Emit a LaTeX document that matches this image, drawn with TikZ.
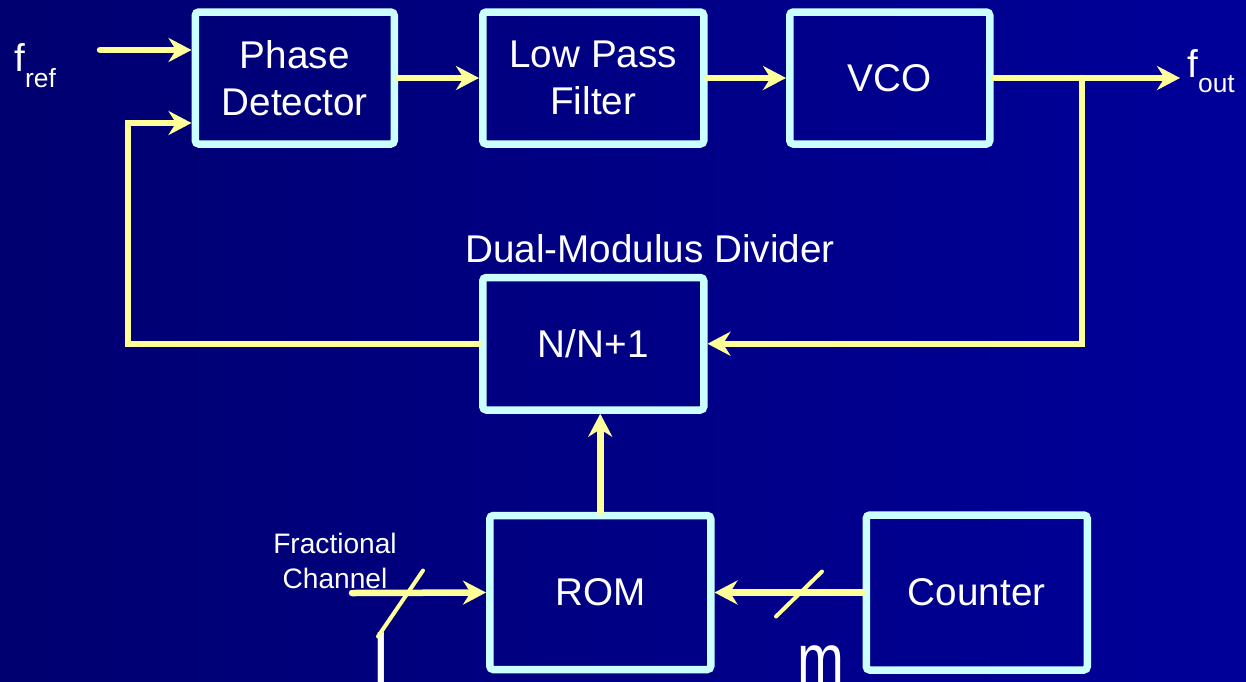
\documentclass[tikz,border=0pt]{standalone}
\usepackage{fontspec}
\setmainfont{Liberation Sans}
\usepackage{tikz}
\usetikzlibrary{arrows.meta,positioning}
\definecolor{bgleft}{HTML}{000070}
\definecolor{bgright}{HTML}{000099}
\definecolor{boxcyan}{HTML}{CCFFFF}
\definecolor{wire}{HTML}{FFFF99}

\begin{document}
\begin{tikzpicture}[
    node distance=1.6cm,
    box/.style={draw=boxcyan, line width=0.15cm, rounded corners=2pt, align=center, text=white, minimum width=4.42cm, minimum height=2.64cm, font=\fontsize{22}{26.6}\selectfont},
    arr/.style={wire, line width=0.13cm, line cap=round, -{Stealth[length=0.46cm,width=0.48cm,inset=0.15cm]}},
    slash/.style={wire, line width=0.08cm, line cap=round},
    lbl/.style={text=white, inner sep=0pt, font=\fontsize{22}{26.6}\selectfont}
  ]
  \shade[left color=bgleft, right color=bgright] (0,0) rectangle (24.92,-13.62);
  \useasboundingbox (0,0) rectangle (24.92,-13.62);

  % loop blocks
  \node[box, minimum width=3.98cm] (pd) at (5.895,-1.56) {Phase\\Detector};
  \node[box, right=1.62cm of pd] (lpf) {Low Pass\\Filter};
  \node[box, minimum width=4.0cm, right=1.57cm of lpf] (vco) {VCO};
  \node[box, minimum height=2.65cm, below=2.52cm of lpf] (div) {N/N+1};
  \node[box, minimum height=3.08cm, below=1.96cm of div, xshift=0.14cm] (rom) {ROM};
  \node[box, minimum height=3.1cm, right=2.96cm of rom] (ctr) {Counter};

  % labels
  \node[lbl, anchor=base west] (fref) at (0.28,-1.42) {f\raisebox{-0.32cm}{\fontsize{15}{18}\selectfont ref}};
  \node[lbl, anchor=base west] (foutlbl) at (23.74,-1.54) {f\raisebox{-0.3cm}{\fontsize{15}{18}\selectfont out}};
  \node[lbl, anchor=base] (divlbl) at (13.0,-5.24) {Dual-Modulus Divider};
  \node[lbl, align=center, font=\fontsize{16}{19.8}\selectfont] (fraclbl) at (6.7,-11.22) {Fractional\\Channel};
  \node[lbl, anchor=base west, font=\fontsize{40}{48}\selectfont] (lbits) at (7.46,-13.66) {l};
  \node[lbl, anchor=base west, font=\fontsize{40}{48}\selectfont] (mbits) at (15.94,-13.66) {\scalebox{0.8}[1]{m}};

  \coordinate (fin) at (2.0,-1.0);
  \coordinate (fb) at (2.56,-2.46);
  \coordinate (tap) at (21.64,-1.56);
  \coordinate (fout) at (23.6,-1.56);
  \coordinate (fracin) at (7.04,-11.86);

  % connectors
  \draw[arr] (fin) -- (fin -| pd.west);
  \draw[arr] (pd.east) -- (lpf.west);
  \draw[arr] (lpf.east) -- (vco.east -| lpf.east) -- (vco.west);
  \draw[arr] (vco.east) -- (fout);
  \draw[arr] (tap) |- (div.east);
  \draw[arr] (div.west) -| (fb) -- (fb -| pd.west);
  \draw[arr] (rom.north) -- (rom.north |- div.south);
  \draw[arr] (fracin) -- (rom.west);
  \draw[arr] (ctr.west) -- (rom.east);

  % bus width marks
  \draw[slash] (8.01,-12.07) ++(-0.45,-0.66) -- ++(0.9,1.32);
  \draw[slash] (15.98,-11.87) ++(-0.46,-0.46) -- ++(0.92,0.9);
\end{tikzpicture}
\end{document}
